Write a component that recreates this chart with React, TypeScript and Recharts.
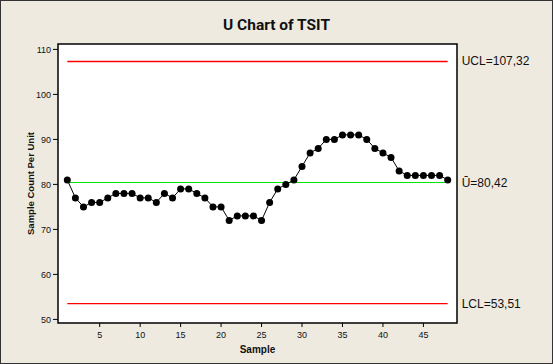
import {
  LineChart,
  Line,
  XAxis,
  YAxis,
  ReferenceLine,
  ReferenceArea,
  Label,
} from "recharts";

// U chart values, one per sample
const U_VALUES = [
  81, 77, 75, 76, 76, 77, 78, 78, 78, 77,
  77, 76, 78, 77, 79, 79, 78, 77, 75, 75,
  72, 73, 73, 73, 72, 76, 79, 80, 81, 84,
  87, 88, 90, 90, 91, 91, 91, 90, 88, 87,
  86, 83, 82, 82, 82, 82, 82, 81,
];
const X_TICKS = [5, 10, 15, 20, 25, 30, 35, 40, 45];
const Y_TICKS = [50, 60, 70, 80, 90, 100, 110];

const UCL = 107.32;
const CENTER = 80.42;
const LCL = 53.51;
const LIMIT_LABELS = ["UCL=107,32", "\u016A=80,42", "LCL=53,51"];

const X_DOMAIN = [-0.15, 49.15];
const Y_DOMAIN = [49.2, 111.2];

const FONT = "'Liberation Sans', Arial, sans-serif";
const BG = "#EEEAE0";
const RED = "#FF0000";
const GREEN = "#00E600";

const data = U_VALUES.map((u, i) => ({ sample: i + 1, u }));
const first = data[0].sample;
const last = data[data.length - 1].sample;

// limit value text sits to the right of the frame, level with its line
const limitLabel = (text: string) => (props: any) => {
  const vb = props.viewBox || {};
  return (
    <text
      x={vb.x + vb.width + 14}
      y={vb.y}
      dy={4}
      fontSize={12}
      fontFamily={FONT}
      fill="#111"
    >
      {text}
    </text>
  );
};

export default function App() {
  return (
    <div
      style={{
        position: "absolute",
        left: 0,
        top: 0,
        width: 553,
        height: 364,
        boxSizing: "border-box",
        border: "1px solid #333",
        background: BG,
      }}
    >
      <div
        style={{
          position: "absolute",
          left: 0,
          top: 15,
          width: 551,
          textAlign: "center",
          fontFamily: "Roboto, sans-serif",
          fontWeight: "bold",
          fontSize: 15.5,
          color: "#111",
        }}
      >
        U Chart of TSIT
      </div>
      <LineChart
        width={551}
        height={362}
        data={data}
        margin={{ top: 43, right: 95, bottom: 0, left: 7 }}
        style={{ position: "absolute", left: 0, top: 0 }}
      >
        <ReferenceArea
          x1={X_DOMAIN[0]}
          x2={X_DOMAIN[1]}
          y1={Y_DOMAIN[0]}
          y2={Y_DOMAIN[1]}
          fill="#fff"
          fillOpacity={1}
          stroke="#000"
          strokeWidth={1.5}
        />
        <XAxis
          type="number"
          dataKey="sample"
          domain={X_DOMAIN}
          ticks={X_TICKS}
          allowDataOverflow
          height={40}
          tickSize={4}
          tickMargin={5}
          axisLine={false}
          tickLine={{ stroke: "#000" }}
          tick={{ fontSize: 9, fontFamily: FONT, fill: "#111" }}
        >
          <Label
            value="Sample"
            position="insideBottom"
            offset={10}
            style={{ fontSize: 10, fontWeight: "bold", fontFamily: FONT, fill: "#111" }}
          />
        </XAxis>
        <YAxis
          type="number"
          domain={Y_DOMAIN}
          ticks={Y_TICKS}
          allowDataOverflow
          width={50}
          tickSize={5}
          tickMargin={2}
          axisLine={false}
          tickLine={{ stroke: "#000" }}
          tick={{ fontSize: 9, fontFamily: FONT, fill: "#111" }}
        >
          <Label
            value="Sample Count Per Unit"
            angle={-90}
            position="insideLeft"
            offset={23}
            style={{
              fontSize: 9.5,
              fontWeight: "bold",
              fontFamily: FONT,
              fill: "#111",
              textAnchor: "middle",
            }}
          />
        </YAxis>
        <ReferenceLine
          segment={[{ x: first, y: UCL }, { x: last, y: UCL }]}
          stroke={RED}
          strokeWidth={1.4}
          label={limitLabel(LIMIT_LABELS[0])}
        />
        <ReferenceLine
          segment={[{ x: first, y: CENTER }, { x: last, y: CENTER }]}
          stroke={GREEN}
          strokeWidth={1.3}
          shapeRendering="crispEdges"
          label={limitLabel(LIMIT_LABELS[1])}
        />
        <ReferenceLine
          segment={[{ x: first, y: LCL }, { x: last, y: LCL }]}
          stroke={RED}
          strokeWidth={1.4}
          label={limitLabel(LIMIT_LABELS[2])}
        />
        <Line
          type="linear"
          dataKey="u"
          stroke="#000"
          strokeWidth={1}
          dot={{ r: 3.5, fill: "#000", stroke: "#000", strokeWidth: 0 }}
          activeDot={false}
          isAnimationActive={false}
        />
      </LineChart>
    </div>
  );
}
